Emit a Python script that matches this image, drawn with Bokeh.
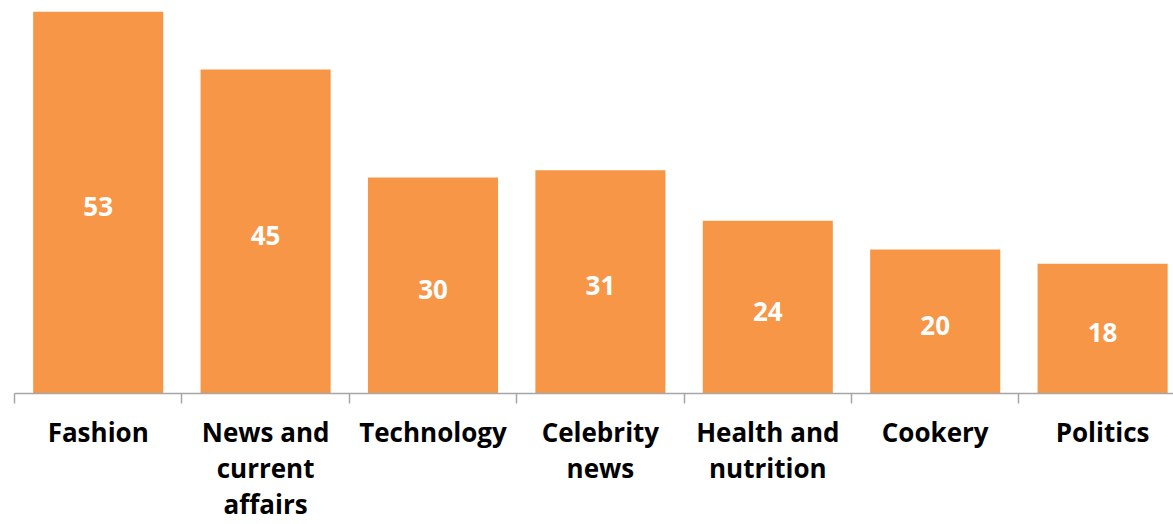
from bokeh.plotting import figure
from bokeh.models import Range1d, FixedTicker, ColumnDataSource, AllLabels
from bokeh.core.properties import value
from bokeh.embed import file_html
from bokeh.resources import INLINE

categories = ["Fashion", "News and\ncurrent\naffairs", "Technology", "Celebrity\nnews",
              "Health and\nnutrition", "Cookery", "Politics"]
values = [53, 45, 30, 31, 24, 20, 18]

FONT = "Open Sans"
ORANGE = "#F79646"

xs = [i + 0.5 for i in range(len(categories))]
src = ColumnDataSource(dict(x=xs, top=values, mid=[v / 2 for v in values],
                            lab=[str(v) for v in values]))

p = figure(width=1173, height=524, output_backend="svg", toolbar_location=None,
           x_range=Range1d(-0.0836, 6.9235), y_range=Range1d(0, 54.57),
           min_border_left=0, min_border_right=0, min_border_top=0, min_border_bottom=130)
p.outline_line_color = None
p.grid.visible = False
p.yaxis.visible = False

p.vbar(x="x", top="top", bottom=0, width=0.777, source=src, color=ORANGE, line_color=None)
p.text(x="x", y="mid", text="lab", source=src, text_color="white",
       text_font=value(FONT), text_font_style="bold", text_font_size="26px",
       text_align="center", text_baseline="middle", y_offset=4)

ax = p.xaxis[0]
ax.ticker = FixedTicker(ticks=xs, minor_ticks=list(range(len(categories) + 1)))
ax.major_label_overrides = {x: c for x, c in zip(xs, categories)}
ax.major_label_policy = AllLabels()
ax.bounds = (0, len(categories))
ax.axis_line_color = "#a6a6a6"
ax.axis_line_width = 1.5
ax.major_tick_line_color = None
ax.major_tick_in = 0
ax.major_tick_out = 0
ax.minor_tick_line_color = "#a6a6a6"
ax.minor_tick_line_width = 1.5
ax.minor_tick_in = 0
ax.minor_tick_out = 10
ax.major_label_standoff = 10
ax.major_label_text_font = FONT
ax.major_label_text_font_style = "bold"
ax.major_label_text_font_size = "26px"
ax.major_label_text_color = "black"
ax.major_label_text_line_height = 1.0

open("out.html", "w").write(file_html(p, INLINE))
